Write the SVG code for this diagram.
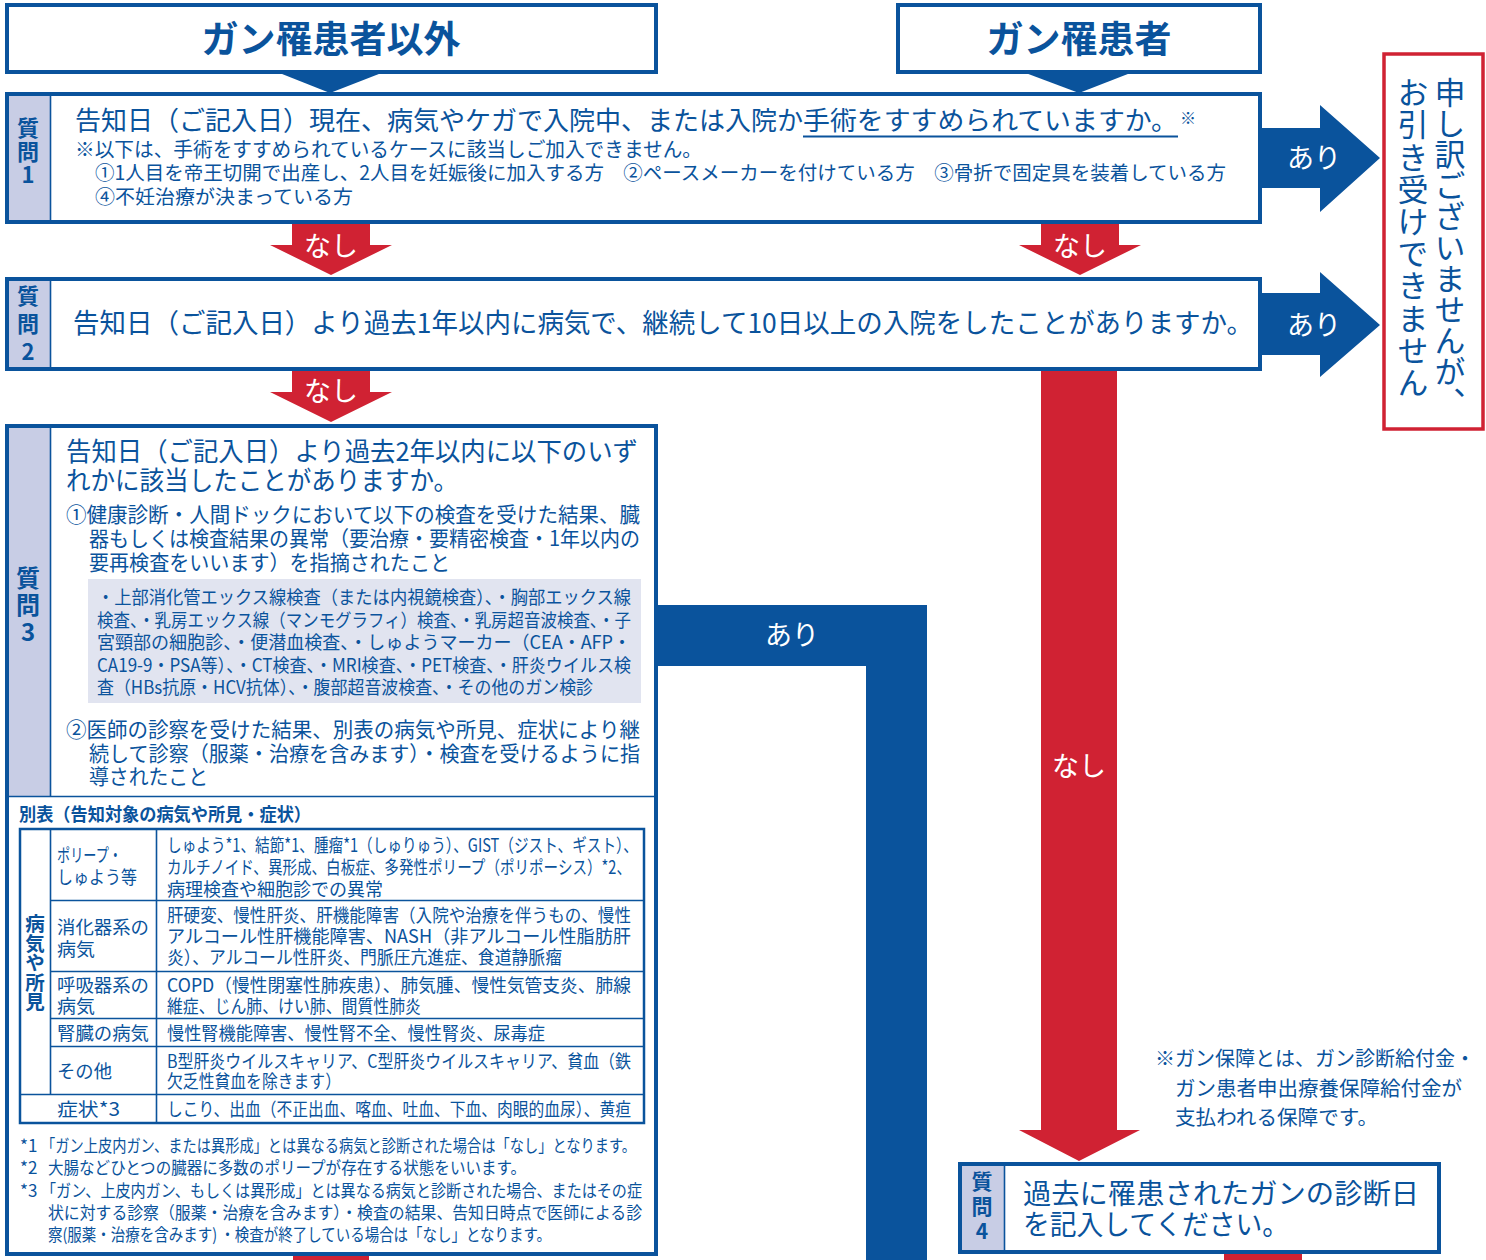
<svg xmlns="http://www.w3.org/2000/svg" width="1486" height="1260" viewBox="0 0 1486 1260">
<style>
text{font-family:"Noto Sans CJK JP","Noto Sans",sans-serif;fill:#0a539c}
.box{fill:#fff;stroke:#0a539c;stroke-width:4}
.lab{fill:#c8cde5}
.ln{stroke:#0a539c;stroke-width:1.6;fill:none}
.blue{fill:#0a539c}
.red{fill:#d02233}
.wt{fill:#fff;font-size:27px;text-anchor:middle}
.hd{font-size:37px;font-weight:700;text-anchor:middle}
.lb{font-weight:700;writing-mode:vertical-rl;text-orientation:upright}
.vt{writing-mode:vertical-rl;font-size:31px}
.s19{font-size:19.5px}
.s21{font-size:21px}
.s18{font-size:18.5px}
.s17{font-size:17px}
</style>
<rect width="1486" height="1260" fill="#fff"/>

<g id="connectors">
  <polygon class="blue" points="277,72 384,72 330,93"/>
  <polygon class="blue" points="1023,72 1133,72 1079,93"/>
  <polygon class="red" points="292,223 370,223 370,245 392,245 331,275 270,245 292,245"/>
  <text class="wt" x="331" y="256">なし</text>
  <polygon class="red" points="1041,223 1119,223 1119,245 1141,245 1080,275 1019,245 1041,245"/>
  <text class="wt" x="1080" y="256">なし</text>
  <polygon class="red" points="292,370 370,370 370,392 392,392 331,422 270,392 292,392"/>
  <text class="wt" x="331" y="401">なし</text>
  <polygon class="red" points="1041,370 1117,370 1117,1130 1140,1130 1079,1161 1019,1130 1041,1130"/>
  <text class="wt" x="1079" y="776">なし</text>
  <polygon class="blue" points="1262,128 1320,128 1320,105 1380,158 1320,212 1320,188 1262,188"/>
  <text class="wt" x="1314" y="168">あり</text>
  <polygon class="blue" points="1262,293 1320,293 1320,272 1380,325 1320,377 1320,355 1262,355"/>
  <text class="wt" x="1314" y="335">あり</text>
  <polygon class="blue" points="655,605 927,605 927,1260 866,1260 866,666 655,666"/>
  <text class="wt" x="792" y="645">あり</text>
  <rect class="red" x="293" y="1256" width="76" height="4"/>
  <rect class="red" x="1224" y="1253" width="78" height="7"/>
</g>

<g id="header-other">
  <rect class="box" x="7" y="5" width="649" height="67"/>
  <text class="hd" x="331" y="53">ガン罹患者以外</text>
</g>

<g id="header-cancer">
  <rect class="box" x="898" y="5" width="362" height="67"/>
  <text class="hd" x="1079" y="53">ガン罹患者</text>
</g>

<g id="q1">
  <rect class="box" x="7" y="94" width="1253" height="128"/>
  <rect class="lab" x="9" y="96" width="41" height="124"/>
  <line class="ln" x1="50.5" y1="96" x2="50.5" y2="220"/>
  <text class="lb" font-size="22" letter-spacing="1.5" x="28" y="117">質問1</text>
  <text y="130" font-size="26.5"><tspan x="75" textLength="728" lengthAdjust="spacingAndGlyphs">告知日（ご記入日）現在、病気やケガで入院中、または入院か</tspan><tspan x="803" textLength="375" lengthAdjust="spacingAndGlyphs">手術をすすめられていますか。</tspan><tspan x="1180" y="124" font-size="16">※</tspan></text>
  <line x1="803" y1="136.5" x2="1178" y2="136.5" stroke="#0a539c" stroke-width="2"/>
  <text class="s19"><tspan x="75" y="157" font-size="20" textLength="627" lengthAdjust="spacingAndGlyphs">※以下は、手術をすすめられているケースに該当しご加入できません。</tspan><tspan x="95" y="180" textLength="1131" lengthAdjust="spacingAndGlyphs">①1人目を帝王切開で出産し、2人目を妊娠後に加入する方　②ペースメーカーを付けている方　③骨折で固定具を装着している方</tspan><tspan x="95" y="204" textLength="258" lengthAdjust="spacingAndGlyphs">④不妊治療が決まっている方</tspan></text>
</g>

<g id="q2">
  <rect class="box" x="7" y="279" width="1253" height="90"/>
  <rect class="lab" x="9" y="281" width="41" height="86"/>
  <line class="ln" x1="50.5" y1="281" x2="50.5" y2="367"/>
  <text class="lb" font-size="22" letter-spacing="6" x="28" y="285">質問2</text>
  <text x="73" y="333" font-size="27" textLength="1180" lengthAdjust="spacingAndGlyphs">告知日（ご記入日）より過去1年以内に病気で、継続して10日以上の入院をしたことがありますか。</text>
</g>

<g id="decline">
  <rect x="1384" y="54" width="99" height="375" fill="#fff" stroke="#d02233" stroke-width="3.5"/>
  <text class="vt"><tspan x="1450" y="77">申し訳ございませんが、</tspan><tspan x="1413" y="77" letter-spacing="1.2">お引き受けできません</tspan></text>
</g>

<g id="q3">
  <rect class="box" x="7" y="426" width="649" height="828"/>
  <rect class="lab" x="9" y="428" width="41" height="368"/>
  <line class="ln" x1="50.5" y1="428" x2="50.5" y2="796"/>
  <line class="ln" x1="9" y1="796.5" x2="655" y2="796.5"/>
  <text class="lb" font-size="24" letter-spacing="3" x="28" y="566">質問3</text>
  <text font-size="26"><tspan x="66" y="461" textLength="572" lengthAdjust="spacingAndGlyphs">告知日（ご記入日）より過去2年以内に以下のいず</tspan><tspan x="66" y="490" textLength="392" lengthAdjust="spacingAndGlyphs">れかに該当したことがありますか。</tspan></text>
  <text class="s21"><tspan x="66" y="522" textLength="574" lengthAdjust="spacingAndGlyphs">①健康診断・人間ドックにおいて以下の検査を受けた結果、臓</tspan><tspan x="89" y="546" textLength="551" lengthAdjust="spacingAndGlyphs">器もしくは検査結果の異常（要治療・要精密検査・1年以内の</tspan><tspan x="89" y="570" textLength="361" lengthAdjust="spacingAndGlyphs">要再検査をいいます）を指摘されたこと</tspan></text>
  <rect x="88" y="579" width="553" height="124" fill="#e1e4f0"/>
  <text class="s18"><tspan x="97" y="604" textLength="534" lengthAdjust="spacingAndGlyphs">・上部消化管エックス線検査（または内視鏡検査）、・胸部エックス線</tspan><tspan x="97" y="627" textLength="534" lengthAdjust="spacingAndGlyphs">検査、・乳房エックス線（マンモグラフィ）検査、・乳房超音波検査、・子</tspan><tspan x="97" y="649" textLength="534" lengthAdjust="spacingAndGlyphs">宮頸部の細胞診、・便潜血検査、・しゅようマーカー（CEA・AFP・</tspan><tspan x="97" y="672" textLength="534" lengthAdjust="spacingAndGlyphs">CA19-9・PSA等）、・CT検査、・MRI検査、・PET検査、・肝炎ウイルス検</tspan><tspan x="97" y="694" textLength="496" lengthAdjust="spacingAndGlyphs">査（HBs抗原・HCV抗体）、・腹部超音波検査、・その他のガン検診</tspan></text>
  <text class="s21"><tspan x="66" y="737" textLength="574" lengthAdjust="spacingAndGlyphs">②医師の診察を受けた結果、別表の病気や所見、症状により継</tspan><tspan x="89" y="761" textLength="551" lengthAdjust="spacingAndGlyphs">続して診察（服薬・治療を含みます）・検査を受けるように指</tspan><tspan x="89" y="784" textLength="119" lengthAdjust="spacingAndGlyphs">導されたこと</tspan></text>

  <text x="19" y="821" font-size="18" font-weight="700" textLength="292" lengthAdjust="spacingAndGlyphs">別表（告知対象の病気や所見・症状）</text>
  <rect x="20" y="829" width="624" height="294" fill="#fff" stroke="#0a539c" stroke-width="2.5"/>
  <line class="ln" x1="50.5" y1="829" x2="50.5" y2="1094"/>
  <line class="ln" x1="156.5" y1="829" x2="156.5" y2="1123"/>
  <line class="ln" x1="50" y1="900.5" x2="644" y2="900.5"/>
  <line class="ln" x1="50" y1="971.5" x2="644" y2="971.5"/>
  <line class="ln" x1="50" y1="1018.5" x2="644" y2="1018.5"/>
  <line class="ln" x1="50" y1="1046.5" x2="644" y2="1046.5"/>
  <line class="ln" x1="20" y1="1094.5" x2="644" y2="1094.5"/>
  <text x="35" y="914" style="writing-mode:vertical-rl" font-size="19.5" font-weight="700">病気や所見</text>

  <text class="s18"><tspan x="57" y="862" textLength="65" lengthAdjust="spacingAndGlyphs">ポリープ・</tspan><tspan x="57" y="884" textLength="80" lengthAdjust="spacingAndGlyphs">しゅよう等</tspan><tspan x="57" y="934" textLength="92" lengthAdjust="spacingAndGlyphs">消化器系の</tspan><tspan x="57" y="956" textLength="38" lengthAdjust="spacingAndGlyphs">病気</tspan><tspan x="57" y="992" textLength="92" lengthAdjust="spacingAndGlyphs">呼吸器系の</tspan><tspan x="57" y="1013" textLength="38" lengthAdjust="spacingAndGlyphs">病気</tspan><tspan x="57" y="1040" textLength="92" lengthAdjust="spacingAndGlyphs">腎臓の病気</tspan><tspan x="57" y="1078" textLength="55" lengthAdjust="spacingAndGlyphs">その他</tspan><tspan x="57" y="1116" textLength="63" lengthAdjust="spacingAndGlyphs">症状*3</tspan></text>

  <text class="s18"><tspan x="167" y="852" textLength="471" lengthAdjust="spacingAndGlyphs">しゅよう*1、結節*1、腫瘤*1（しゅりゅう）、GIST（ジスト、ギスト）、</tspan><tspan x="167" y="874" textLength="464" lengthAdjust="spacingAndGlyphs">カルチノイド、異形成、白板症、多発性ポリープ（ポリポーシス）*2、</tspan><tspan x="167" y="896" textLength="216" lengthAdjust="spacingAndGlyphs">病理検査や細胞診での異常</tspan><tspan x="167" y="922" textLength="464" lengthAdjust="spacingAndGlyphs">肝硬変、慢性肝炎、肝機能障害（入院や治療を伴うもの、慢性</tspan><tspan x="167" y="943" textLength="464" lengthAdjust="spacingAndGlyphs">アルコール性肝機能障害、NASH（非アルコール性脂肪肝</tspan><tspan x="167" y="964" textLength="395" lengthAdjust="spacingAndGlyphs">炎）、アルコール性肝炎、門脈圧亢進症、食道静脈瘤</tspan><tspan x="167" y="992" textLength="464" lengthAdjust="spacingAndGlyphs">COPD（慢性閉塞性肺疾患）、肺気腫、慢性気管支炎、肺線</tspan><tspan x="167" y="1013" textLength="254" lengthAdjust="spacingAndGlyphs">維症、じん肺、けい肺、間質性肺炎</tspan><tspan x="167" y="1040" textLength="378" lengthAdjust="spacingAndGlyphs">慢性腎機能障害、慢性腎不全、慢性腎炎、尿毒症</tspan><tspan x="167" y="1068" textLength="464" lengthAdjust="spacingAndGlyphs">B型肝炎ウイルスキャリア、C型肝炎ウイルスキャリア、貧血（鉄</tspan><tspan x="167" y="1088" textLength="174" lengthAdjust="spacingAndGlyphs">欠乏性貧血を除きます）</tspan><tspan x="167" y="1116" textLength="464" lengthAdjust="spacingAndGlyphs">しこり、出血（不正出血、喀血、吐血、下血、肉眼的血尿）、黄疸</tspan></text>

  <text class="s17"><tspan x="20" y="1152">*1</tspan><tspan x="41" y="1152" textLength="595" lengthAdjust="spacingAndGlyphs">「ガン上皮内ガン、または異形成」とは異なる病気と診断された場合は「なし」となります。</tspan><tspan x="20" y="1174">*2</tspan><tspan x="48" y="1174" textLength="478" lengthAdjust="spacingAndGlyphs">大腸などひとつの臓器に多数のポリープが存在する状態をいいます。</tspan><tspan x="20" y="1197">*3</tspan><tspan x="41" y="1197" textLength="601" lengthAdjust="spacingAndGlyphs">「ガン、上皮内ガン、もしくは異形成」とは異なる病気と診断された場合、またはその症</tspan><tspan x="48" y="1219" textLength="594" lengthAdjust="spacingAndGlyphs">状に対する診察（服薬・治療を含みます）・検査の結果、告知日時点で医師による診</tspan><tspan x="48" y="1241" textLength="503" lengthAdjust="spacingAndGlyphs">察(服薬・治療を含みます) ・検査が終了している場合は「なし」となります。</tspan></text>
</g>

<g id="note">
  <text font-size="20.5"><tspan x="1155" y="1066" textLength="320" lengthAdjust="spacingAndGlyphs">※ガン保障とは、ガン診断給付金・</tspan><tspan x="1175" y="1096" textLength="287" lengthAdjust="spacingAndGlyphs">ガン患者申出療養保障給付金が</tspan><tspan x="1175" y="1125" textLength="203" lengthAdjust="spacingAndGlyphs">支払われる保障です。</tspan></text>
</g>

<g id="q4">
  <rect class="box" x="960" y="1164" width="479" height="88" stroke-width="3.5"/>
  <rect class="lab" x="962" y="1166" width="42" height="84"/>
  <line class="ln" x1="1004.5" y1="1166" x2="1004.5" y2="1250"/>
  <text class="lb" font-size="21" letter-spacing="4" x="982" y="1171">質問4</text>
  <text font-size="28"><tspan x="1023" y="1204" textLength="396" lengthAdjust="spacingAndGlyphs">過去に罹患されたガンの診断日</tspan><tspan x="1023" y="1235" textLength="266" lengthAdjust="spacingAndGlyphs">を記入してください。</tspan></text>
</g>
</svg>
